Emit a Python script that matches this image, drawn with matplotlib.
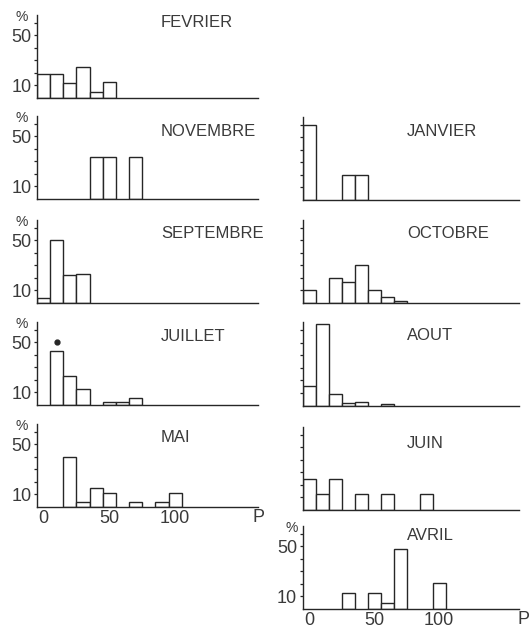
import numpy as np
import matplotlib.pyplot as plt

plt.rcParams['font.family'] = ['Liberation Sans', 'DejaVu Sans']

# pourcentages par classe de P (classes centrées sur 0, 10, 20, ...)
fevrier = [19, 19, 12, 25, 5, 12.5]
novembre = [0, 0, 0, 0, 33.3, 33.3, 0, 33.3]
janvier = [60, 0, 0, 20, 20]
septembre = [4, 50, 22, 23]
octobre = [10, 0, 20, 17, 30, 10, 5, 1.5]
juillet = [0, 43, 23, 13, 0, 2.6, 2.6, 5.7]
aout = [15.5, 65, 9, 2, 3, 0, 1]
mai = [0, 0, 40, 4, 15, 11, 0, 4, 0, 4, 11]
juin = [25, 12.5, 25, 0, 12.5, 0, 12.5, 0, 0, 12.5]
avril = [0, 0, 0, 13, 0, 13, 5, 48, 0, 0, 21]

bin_width = 10
x_ticks = [0, 50, 100]
y_ticks = [10, 20, 30, 40, 50, 60]
y_labels = ['10', '', '', '', '50', '']
star_bin = {'JUILLET': 1, 'AOUT': 1}

W, H = 530, 632
ink = '#262626'
txt = '#3a3a3a'

# nom, données, colonne, ligne de base (px), titre (px au-dessus), axes gradués, abscisses
panels = [
    ('FEVRIER', fevrier, 0, 98, 75, True, False),
    ('NOVEMBRE', novembre, 0, 199, 68, True, False),
    ('SEPTEMBRE', septembre, 0, 303, 70, True, False),
    ('JUILLET', juillet, 0, 405, 68, True, False),
    ('MAI', mai, 0, 507, 69, True, True),
    ('JANVIER', janvier, 1, 200, 68, False, False),
    ('OCTOBRE', octobre, 1, 303, 69, False, False),
    ('AOUT', aout, 1, 405.5, 70, False, False),
    ('JUIN', juin, 1, 510, 67, False, False),
    ('AVRIL', avril, 1, 609, 74, True, True),
]
cols = [(37, 221, 163), (302.5, 216, 161)]
ax_h = 83

fig = plt.figure(figsize=(W / 100, H / 100), dpi=100)
fig.patch.set_facecolor('white')

for name, vals, col, base, ty, labelled, xlab in panels:
    x0, w, xmax = cols[col]
    ax = fig.add_axes([x0 / W, 1 - base / H, w / W, ax_h / H])
    centers = np.arange(len(vals)) * bin_width
    heights = np.array(vals, dtype=float)
    keep = heights > 0
    ax.bar(centers[keep], heights[keep], width=bin_width, facecolor='white',
           edgecolor=ink, linewidth=1.0)
    if name in star_bin:
        i = star_bin[name]
        ax.plot(centers[i], heights[i] + 7, 'o', color=ink, markersize=3.5)
    ax.set_xlim(-5, xmax)
    ax.set_ylim(0, 66)
    for s in ['top', 'right']:
        ax.spines[s].set_visible(False)
    for s in ['left', 'bottom']:
        ax.spines[s].set_color(ink)
        ax.spines[s].set_linewidth(1.0)
    ax.set_yticks(y_ticks)
    ax.tick_params(axis='y', length=2.5, width=0.9, color=ink, pad=1.5,
                   labelsize=13, labelcolor=txt)
    if labelled:
        ax.set_yticklabels(y_labels)
        ax.text(-0.07 if col == 0 else -0.05, 0.98, '%', transform=ax.transAxes,
                ha='center', va='center', fontsize=10, color=txt)
    else:
        ax.set_yticklabels([])
    ax.set_xticks(x_ticks)
    ax.tick_params(axis='x', length=0, pad=2.5, labelsize=13, labelcolor=txt)
    if xlab:
        ax.text(1.0 if col == 0 else 1.025, -0.03, 'P', transform=ax.transAxes,
                ha='center', va='top', fontsize=13, color=txt)
    else:
        ax.set_xticklabels([])
    ax.text(0.561 if col == 0 else 0.484, ty / ax_h, name, transform=ax.transAxes,
            ha='left', va='center', fontsize=12, color=txt)

fig.savefig('out.png', dpi=100, facecolor='white')
